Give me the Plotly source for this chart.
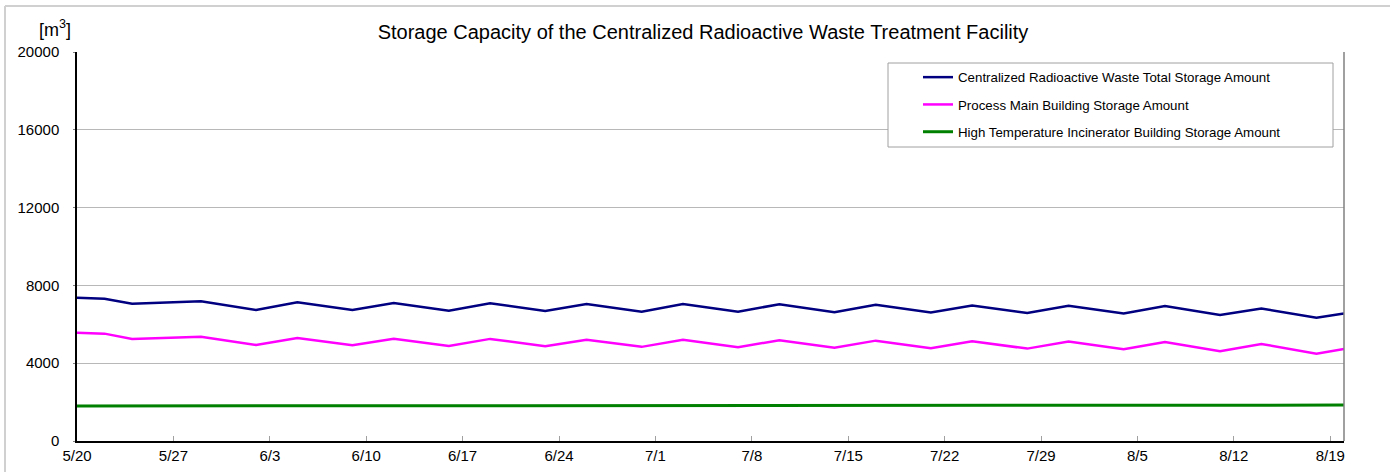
import plotly.graph_objects as go

dates = ["2014-05-20", "2014-05-22", "2014-05-24", "2014-05-29", "2014-06-02", "2014-06-05",
         "2014-06-09", "2014-06-12", "2014-06-16", "2014-06-19", "2014-06-23", "2014-06-26",
         "2014-06-30", "2014-07-03", "2014-07-07", "2014-07-10", "2014-07-14", "2014-07-17",
         "2014-07-21", "2014-07-24", "2014-07-28", "2014-07-31", "2014-08-04", "2014-08-07",
         "2014-08-11", "2014-08-14", "2014-08-18", "2014-08-20"]

total_storage = [7370, 7310, 7060, 7180, 6730, 7130, 6730, 7090, 6700, 7080, 6680, 7040,
                 6650, 7040, 6650, 7030, 6620, 7010, 6610, 6970, 6580, 6950, 6560, 6940,
                 6480, 6810, 6340, 6560]

process_main = [5570, 5520, 5250, 5360, 4940, 5300, 4920, 5260, 4890, 5250, 4870, 5210,
                4840, 5200, 4820, 5180, 4790, 5160, 4770, 5130, 4750, 5110, 4720, 5090,
                4620, 4990, 4490, 4730]

incinerator = [1800, 1800, 1805, 1810, 1810, 1815, 1815, 1815, 1820, 1820, 1820, 1825,
               1825, 1825, 1830, 1830, 1830, 1830, 1835, 1835, 1835, 1835, 1840, 1840,
               1840, 1840, 1845, 1845]

names = ["Centralized Radioactive Waste Total Storage Amount",
         "Process Main Building Storage Amount",
         "High Temperature Incinerator Building Storage Amount"]
colors = ["#000080", "#FF00FF", "#008000"]
widths = [2.5, 2.5, 3]
series = [total_storage, process_main, incinerator]

W, H = 1390, 472
L, R, T, B = 77, 1344, 52, 441


def px(x):
    return (x - L) / (R - L)


def py(y):
    return (B - y) / (B - T)


FONT = "Liberation Sans, Arial, sans-serif"

fig = go.Figure()
for i, (nm, vals) in enumerate(zip(names, series)):
    fig.add_trace(go.Scatter(x=dates, y=vals, mode="lines", name=nm,
                             legendgroup=str(i),
                             line=dict(color=colors[i], width=widths[i])))

fig.update_layout(
    width=W, height=H,
    margin=dict(l=L, r=W - R, t=T, b=H - B, pad=0, autoexpand=False),
    paper_bgcolor="white", plot_bgcolor="white",
    font=dict(family=FONT, size=15, color="black"),
    title=dict(text="Storage Capacity of the Centralized Radioactive Waste Treatment Facility",
               x=703 / W, xanchor="center", xref="container",
               y=1 - 32 / H, yanchor="middle", yref="container",
               font=dict(size=20, family=FONT)),
    showlegend=True,
    legend=dict(x=px(918), xanchor="left", y=py(62), yanchor="top",
                bgcolor="rgba(0,0,0,0)", borderwidth=0,
                font=dict(size=13.3, family=FONT),
                tracegroupgap=7, itemwidth=30),
    xaxis=dict(type="date", range=["2014-05-20", "2014-08-20"],
               tick0="2014-05-20", dtick=7 * 86400000, tickformat="%-m/%-d",
               ticks="inside", ticklen=5, tickcolor="#a0a0a0",
               showline=True, linecolor="black", linewidth=1.5,
               showgrid=False, zeroline=False, automargin=False,
               tickfont=dict(size=15)),
    yaxis=dict(range=[0, 20000], dtick=4000, tick0=0, tickformat="d",
               showgrid=True, gridcolor="#b8b8b8", gridwidth=1,
               showline=True, linecolor="black", linewidth=1.5,
               ticks="outside", ticklen=2, tickcolor="#808080",
               zeroline=False, ticklabelstandoff=11, automargin=False,
               tickfont=dict(size=15)),
    annotations=[dict(text="[m<sup>3</sup>]", xref="paper", yref="paper",
                      x=px(55), y=py(28), xanchor="center", yanchor="middle",
                      showarrow=False, font=dict(size=18, family=FONT))],
    shapes=[
        # right border of plot
        dict(type="line", xref="paper", yref="paper", x0=1, x1=1, y0=0, y1=1,
             line=dict(color="#808080", width=1.5)),
        # legend box
        dict(type="rect", xref="paper", yref="paper", x0=px(888), x1=px(1333),
             y0=py(147), y1=py(63), fillcolor="white",
             line=dict(color="#a0a0a0", width=1), layer="above"),
        # outer chart frame (left and top visible)
        dict(type="line", xref="paper", yref="paper", x0=px(5), x1=px(5),
             y0=py(480), y1=py(6), line=dict(color="#d0d0d0", width=2)),
        dict(type="line", xref="paper", yref="paper", x0=px(5), x1=px(1400),
             y0=py(6), y1=py(6), line=dict(color="#d0d0d0", width=2)),
    ],
)

fig.write_html("out.html", config={"displayModeBar": False},
               post_script="document.body.style.margin='0';")
